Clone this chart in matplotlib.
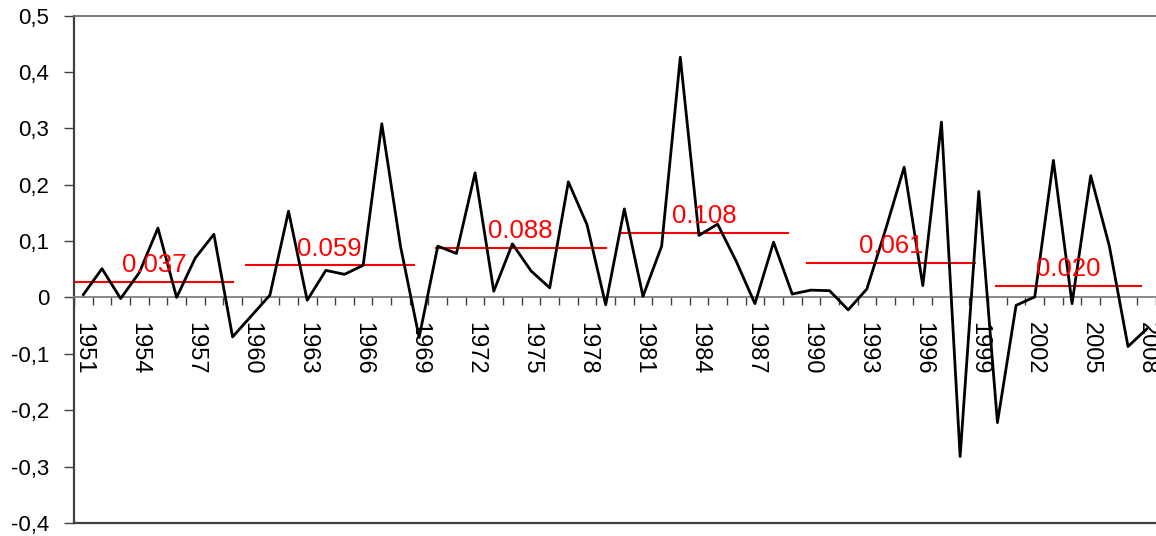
import numpy as np
import matplotlib
matplotlib.use("Agg")
import matplotlib.pyplot as plt
from matplotlib.ticker import FixedLocator, FuncFormatter

plt.rcParams['font.family'] = ['Liberation Sans', 'DejaVu Sans']

years = list(range(1951, 2009))
values = [
    0.005, 0.051, -0.002, 0.044, 0.123, 0.000, 0.070, 0.112, -0.070, -0.033,
    0.004, 0.153, -0.005, 0.048, 0.041, 0.057, 0.308, 0.091, -0.071, 0.091,
    0.078, 0.221, 0.011, 0.095, 0.047, 0.017, 0.205, 0.129, -0.013, 0.157,
    0.002, 0.091, 0.426, 0.110, 0.130, 0.064, -0.011, 0.098, 0.006, 0.013,
    0.012, -0.022, 0.015, 0.120, 0.231, 0.021, 0.311, -0.282, 0.188, -0.222,
    -0.014, 0.001, 0.243, -0.011, 0.216, 0.091, -0.087, -0.056,
]

# decade averages (red segments)
seg_start = [1950.6, 1959.7, 1969.9, 1979.8, 1989.8, 1999.9]
seg_end = [1959.0, 1968.7, 1979.0, 1988.8, 1998.8, 2007.7]
seg_level = [0.027, 0.057, 0.088, 0.115, 0.061, 0.020]
seg_label = ["0.037", "0.059", "0.088", "0.108", "0.061", "0.020"]


def comma_fmt(v, pos):
    if abs(v) < 1e-9:
        return "0"
    return f"{v:.1f}".replace('.', ',')


fig = plt.figure(figsize=(11.56, 5.36), dpi=100)
ax = fig.add_axes([74 / 1156, 13 / 536, 1 - 74 / 1156, 507.5 / 536])

# move the category axis to y=0 first (this resets tick settings)
ax.spines['bottom'].set_position(('data', 0))

ax.plot(years, values, color='black', lw=2.0, zorder=3)

for x0, x1, lvl, lab in zip(seg_start, seg_end, seg_level, seg_label):
    ax.plot([x0, x1], [lvl, lvl], color='red', lw=1.5, zorder=2)
    ax.annotate(lab, xy=((x0 + x1) / 2, lvl), xytext=(0, 7),
                textcoords='offset points', ha='center', va='baseline',
                color='red', fontsize=18.5)

ax.set_xlim(1950.5, 2008.5)
ax.set_ylim(-0.4, 0.5)
ax.set_yticks(np.arange(-0.4, 0.51, 0.1))
ax.yaxis.set_major_formatter(FuncFormatter(comma_fmt))
ax.tick_params(axis='y', direction='out', length=7, width=1, color='#404040',
               labelsize=16, pad=11)

ax.set_xticks(years[::3])
ax.set_xticklabels([str(y) for y in years[::3]])
ax.xaxis.set_minor_locator(FixedLocator(np.arange(1950.5, 2009, 1.0)))
ax.tick_params(axis='x', which='major', length=0, pad=18, labelsize=17,
               labelrotation=-90)
ax.tick_params(axis='x', which='minor', direction='out', length=6, width=1,
               color='#404040')
for lbl in ax.get_xticklabels():
    lbl.set_va('top')
    lbl.set_ha('center')

ax.spines['bottom'].set_color('#808080')
ax.spines['bottom'].set_linewidth(1.3)
ax.spines['left'].set_color('#404040')
ax.spines['left'].set_linewidth(1.6)
ax.spines['top'].set_color('#707070')
ax.spines['top'].set_linewidth(1.3)
ax.spines['right'].set_visible(False)
ax.axhline(-0.4, color='#404040', lw=1.6, clip_on=False)

fig.savefig("out.png", dpi=100)
